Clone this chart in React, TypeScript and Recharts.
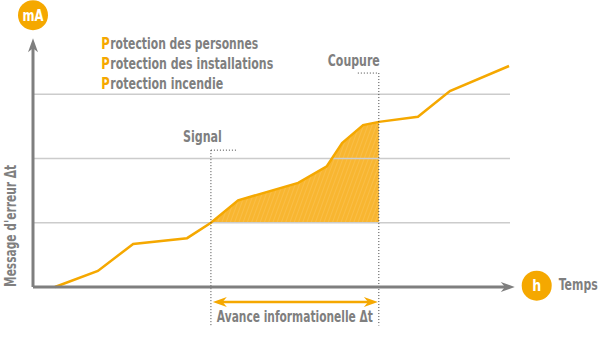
import React from "react";
import { ComposedChart, Line, Area, XAxis, YAxis, ReferenceLine, ReferenceDot } from "recharts";

// Curve (x: time units 0..100, y: error message level 0..4)
const curveX = [4.6, 13.6, 21.0, 32.3, 37.3, 43.0, 55.6, 61.6, 64.8, 69.2, 72.5, 80.7, 87.4, 99.8];
const curveY = [0, 0.25, 0.67, 0.76, 1.0, 1.35, 1.62, 1.88, 2.24, 2.52, 2.57, 2.65, 3.05, 3.44];
const gridLevels = [1, 2, 3];
const signalX = 37.3;
const coupureX = 72.5;
const baseLevel = 1;
const legendLines = ["Protection des personnes", "Protection des installations", "Protection incendie"];
const legendWidths = [157, 172, 122];
const signalLabel = "Signal";
const coupureLabel = "Coupure";
const avanceLabel = "Avance informationelle \u0394t";
const yLabel = "Message d'erreur \u0394t";
const xLabel = "Temps";
const yUnit = "mA";
const xUnit = "h";

const data = curveX.map((x, i) => ({
  x,
  y: curveY[i],
  fill: x >= signalX && x <= coupureX ? curveY[i] : undefined,
}));

const ORANGE = "#F5A800";
const GRAY = "#7F7F7F";
const FONT = "'DejaVu Sans Condensed', 'Liberation Sans Narrow', sans-serif";

const ArrowLine = (props: any) => {
  const { x1, y1, x2, y2, color, both, width } = props;
  const dx = x2 - x1, dy = y2 - y1;
  const len = Math.sqrt(dx * dx + dy * dy) || 1;
  const ux = dx / len, uy = dy / len;
  const L = 14, W = 5;
  const head = (tx: number, ty: number, sx: number, sy: number) => {
    const bx = tx - sx * L, by = ty - sy * L;
    const mx = tx - sx * L * 0.7, my = ty - sy * L * 0.7;
    return `${tx},${ty} ${bx - sy * W},${by + sx * W} ${mx},${my} ${bx + sy * W},${by - sx * W}`;
  };
  return (
    <g>
      <line x1={both ? x1 + ux * 8 : x1} y1={both ? y1 + uy * 8 : y1} x2={x2 - ux * 8} y2={y2 - uy * 8} stroke={color} strokeWidth={width} />
      <polygon points={head(x2, y2, ux, uy)} fill={color} />
      {both && <polygon points={head(x1, y1, -ux, -uy)} fill={color} />}
    </g>
  );
};

const Badge = (text: string, tw: number) => (props: any) => {
  const { cx, cy } = props;
  return (
    <g>
      <circle cx={cx} cy={cy} r={15} fill={ORANGE} />
      <text x={cx} y={cy + 5.5} textAnchor="middle" fill="#fff" fontFamily={FONT} fontWeight="bold" fontSize={16} textLength={tw} lengthAdjust="spacingAndGlyphs">
        {text}
      </text>
    </g>
  );
};

const TextAt = (text: string, anchor: string, tw: number, rotate = false) => (props: any) => {
  const { cx, cy } = props;
  return (
    <text
      x={cx}
      y={cy}
      textAnchor={anchor}
      fill={GRAY}
      fontFamily={FONT}
      fontWeight="bold"
      fontSize={16.5}
      textLength={tw}
      lengthAdjust="spacingAndGlyphs"
      transform={rotate ? `rotate(-90 ${cx} ${cy})` : undefined}
    >
      {text}
    </text>
  );
};

const LegendText = (text: string, tw: number) => (props: any) => {
  const { cx, cy } = props;
  const pw = 8.5;
  return (
    <g>
      <text x={cx} y={cy} fill={ORANGE} fontFamily={FONT} fontWeight="bold" fontSize={16.5} textLength={pw} lengthAdjust="spacingAndGlyphs">
        {text[0]}
      </text>
      <text x={cx + pw + 0.5} y={cy} fill={GRAY} fontFamily={FONT} fontWeight="bold" fontSize={16.5} textLength={tw - pw - 0.5} lengthAdjust="spacingAndGlyphs">
        {text.slice(1)}
      </text>
    </g>
  );
};

export default function App() {
  return (
    <div style={{ position: "absolute", left: 0, top: 0, width: 600, height: 358 }}>
      <ComposedChart
        width={600}
        height={358}
        data={data}
        margin={{ top: 30, right: 90, bottom: 71, left: 33 }}
      >
        <defs>
          <pattern id="hatch" width="4" height="4" patternUnits="userSpaceOnUse" patternTransform="rotate(20)">
            <rect width="4" height="4" fill="#F8B631" />
            <line x1="0" y1="0" x2="0" y2="4" stroke="#FAC457" strokeWidth="1.2" />
          </pattern>
        </defs>
        <XAxis dataKey="x" type="number" domain={[0, 100]} hide />
        <YAxis type="number" domain={[0, 4]} hide />
        {gridLevels.map((g) => (
          <ReferenceLine key={g} y={g} stroke="#CCCCCC" strokeWidth={1.5} />
        ))}
        <Area
          dataKey="fill"
          baseValue={baseLevel}
          stroke="none"
          fill="url(#hatch)"
          fillOpacity={1}
          isAnimationActive={false}
          connectNulls={false}
        />
        <Line dataKey="y" stroke={ORANGE} strokeWidth={2.5} dot={false} isAnimationActive={false} />
        {/* dotted markers */}
        <ReferenceLine segment={[{ x: signalX, y: 2.13 }, { x: signalX, y: -0.6 }]} stroke="#444" strokeWidth={1} strokeDasharray="1 2" ifOverflow="visible" />
        <ReferenceLine segment={[{ x: signalX, y: 2.13 }, { x: 42.8, y: 2.13 }]} stroke="#444" strokeWidth={1} strokeDasharray="1 2" ifOverflow="visible" />
        <ReferenceLine segment={[{ x: coupureX, y: 3.33 }, { x: coupureX, y: -0.6 }]} stroke="#444" strokeWidth={1} strokeDasharray="1 2" ifOverflow="visible" />
        <ReferenceLine segment={[{ x: 68.1, y: 3.33 }, { x: coupureX, y: 3.33 }]} stroke="#444" strokeWidth={1} strokeDasharray="1 2" ifOverflow="visible" />
        {/* axes */}
        <ReferenceLine
          segment={[{ x: 0, y: 0 }, { x: 101.0, y: 0 }]}
          ifOverflow="visible"
          shape={(p: any) => <ArrowLine {...p} color={GRAY} width={3} />}
        />
        <ReferenceLine
          segment={[{ x: 0, y: 0 }, { x: 0, y: 3.87 }]}
          ifOverflow="visible"
          shape={(p: any) => <ArrowLine {...p} color={GRAY} width={3} />}
        />
        {/* avance arrow */}
        <ReferenceLine
          segment={[{ x: 37.7, y: -0.235 }, { x: 72.3, y: -0.235 }]}
          ifOverflow="visible"
          shape={(p: any) => <ArrowLine {...p} color={ORANGE} width={2.5} both />}
        />
        <ReferenceDot x={0} y={4.23} ifOverflow="visible" shape={Badge(yUnit, 21)} />
        <ReferenceDot x={105.6} y={0.02} ifOverflow="visible" shape={Badge(xUnit, 9)} />
        {legendLines.map((t, i) => (
          <ReferenceDot key={t} x={14.3} y={3.7 - i * 0.31} ifOverflow="visible" shape={LegendText(t, legendWidths[i])} />
        ))}
        <ReferenceDot x={39.6} y={2.26} ifOverflow="visible" shape={TextAt(signalLabel, "end", 39)} />
        <ReferenceDot x={72.7} y={3.44} ifOverflow="visible" shape={TextAt(coupureLabel, "end", 52)} />
        <ReferenceDot x={54.9} y={-0.55} ifOverflow="visible" shape={TextAt(avanceLabel, "middle", 156)} />
        <ReferenceDot x={118.4} y={-0.05} ifOverflow="visible" shape={TextAt(xLabel, "end", 39)} />
        <ReferenceDot x={-3.5} y={0.95} ifOverflow="visible" shape={TextAt(yLabel, "middle", 122, true)} />
      </ComposedChart>
    </div>
  );
}
